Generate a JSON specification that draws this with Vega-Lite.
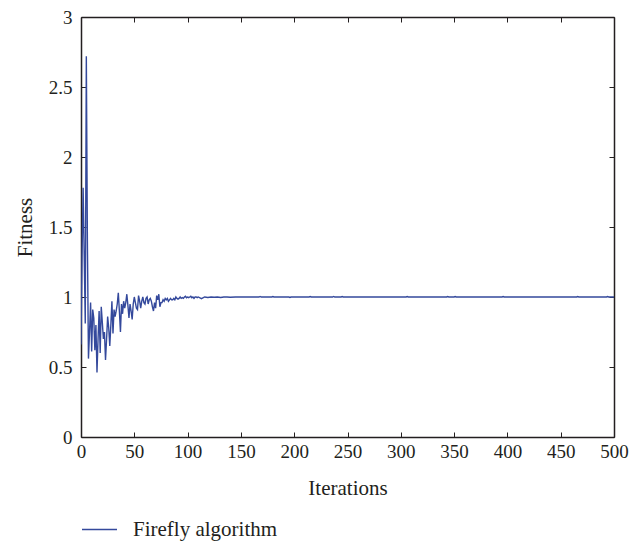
{
  "$schema": "https://vega.github.io/schema/vega-lite/v6.json",
  "autosize": "none",
  "width": 533,
  "height": 420,
  "padding": {"left": 81, "top": 17, "right": 28, "bottom": 108},
  "background": "white",
  "config": {
    "view": {"stroke": null},
    "font": "Liberation Serif",
    "axis": {
      "grid": false,
      "domainColor": "#231f20",
      "domainWidth": 1.5,
      "tickColor": "#231f20",
      "tickSize": -5,
      "tickWidth": 1,
      "labelFont": "Liberation Serif",
      "labelFontSize": 19,
      "labelColor": "#231f20",
      "titleFont": "Liberation Serif",
      "titleFontSize": 21,
      "titleFontWeight": "normal",
      "titleColor": "#231f20"
    },
    "legend": {
      "labelFont": "Liberation Serif",
      "labelFontSize": 21,
      "labelColor": "#231f20"
    }
  },
  "data": {
    "values": [
      {"iteration": 0, "fitness": 0.66, "series": "Firefly algorithm"},
      {"iteration": 1, "fitness": 1.3, "series": "Firefly algorithm"},
      {"iteration": 2, "fitness": 1.78, "series": "Firefly algorithm"},
      {"iteration": 3, "fitness": 1.3, "series": "Firefly algorithm"},
      {"iteration": 4, "fitness": 0.81, "series": "Firefly algorithm"},
      {"iteration": 5, "fitness": 2.72, "series": "Firefly algorithm"},
      {"iteration": 6, "fitness": 1.4, "series": "Firefly algorithm"},
      {"iteration": 7, "fitness": 0.56, "series": "Firefly algorithm"},
      {"iteration": 8, "fitness": 0.75, "series": "Firefly algorithm"},
      {"iteration": 9, "fitness": 0.96, "series": "Firefly algorithm"},
      {"iteration": 10, "fitness": 0.61, "series": "Firefly algorithm"},
      {"iteration": 11, "fitness": 0.91, "series": "Firefly algorithm"},
      {"iteration": 12, "fitness": 0.85, "series": "Firefly algorithm"},
      {"iteration": 13, "fitness": 0.62, "series": "Firefly algorithm"},
      {"iteration": 14, "fitness": 0.8, "series": "Firefly algorithm"},
      {"iteration": 15, "fitness": 0.46, "series": "Firefly algorithm"},
      {"iteration": 16, "fitness": 0.7, "series": "Firefly algorithm"},
      {"iteration": 17, "fitness": 0.9, "series": "Firefly algorithm"},
      {"iteration": 18, "fitness": 0.6, "series": "Firefly algorithm"},
      {"iteration": 19, "fitness": 0.93, "series": "Firefly algorithm"},
      {"iteration": 20, "fitness": 0.82, "series": "Firefly algorithm"},
      {"iteration": 21, "fitness": 0.7, "series": "Firefly algorithm"},
      {"iteration": 22, "fitness": 0.75, "series": "Firefly algorithm"},
      {"iteration": 23, "fitness": 0.55, "series": "Firefly algorithm"},
      {"iteration": 24, "fitness": 0.7, "series": "Firefly algorithm"},
      {"iteration": 25, "fitness": 0.86, "series": "Firefly algorithm"},
      {"iteration": 26, "fitness": 0.78, "series": "Firefly algorithm"},
      {"iteration": 27, "fitness": 0.65, "series": "Firefly algorithm"},
      {"iteration": 28, "fitness": 0.8, "series": "Firefly algorithm"},
      {"iteration": 29, "fitness": 0.97, "series": "Firefly algorithm"},
      {"iteration": 30, "fitness": 0.74, "series": "Firefly algorithm"},
      {"iteration": 31, "fitness": 0.91, "series": "Firefly algorithm"},
      {"iteration": 32, "fitness": 0.86, "series": "Firefly algorithm"},
      {"iteration": 33, "fitness": 0.9, "series": "Firefly algorithm"},
      {"iteration": 34, "fitness": 0.95, "series": "Firefly algorithm"},
      {"iteration": 35, "fitness": 1.03, "series": "Firefly algorithm"},
      {"iteration": 36, "fitness": 0.9, "series": "Firefly algorithm"},
      {"iteration": 37, "fitness": 0.75, "series": "Firefly algorithm"},
      {"iteration": 38, "fitness": 0.95, "series": "Firefly algorithm"},
      {"iteration": 39, "fitness": 0.88, "series": "Firefly algorithm"},
      {"iteration": 40, "fitness": 0.97, "series": "Firefly algorithm"},
      {"iteration": 41, "fitness": 0.92, "series": "Firefly algorithm"},
      {"iteration": 42, "fitness": 0.96, "series": "Firefly algorithm"},
      {"iteration": 43, "fitness": 1.02, "series": "Firefly algorithm"},
      {"iteration": 44, "fitness": 0.94, "series": "Firefly algorithm"},
      {"iteration": 45, "fitness": 0.85, "series": "Firefly algorithm"},
      {"iteration": 46, "fitness": 0.95, "series": "Firefly algorithm"},
      {"iteration": 47, "fitness": 0.9, "series": "Firefly algorithm"},
      {"iteration": 48, "fitness": 0.84, "series": "Firefly algorithm"},
      {"iteration": 49, "fitness": 0.95, "series": "Firefly algorithm"},
      {"iteration": 50, "fitness": 1.0, "series": "Firefly algorithm"},
      {"iteration": 51, "fitness": 0.96, "series": "Firefly algorithm"},
      {"iteration": 52, "fitness": 0.92, "series": "Firefly algorithm"},
      {"iteration": 53, "fitness": 0.91, "series": "Firefly algorithm"},
      {"iteration": 54, "fitness": 1.01, "series": "Firefly algorithm"},
      {"iteration": 55, "fitness": 0.97, "series": "Firefly algorithm"},
      {"iteration": 56, "fitness": 0.92, "series": "Firefly algorithm"},
      {"iteration": 57, "fitness": 0.97, "series": "Firefly algorithm"},
      {"iteration": 58, "fitness": 1.0, "series": "Firefly algorithm"},
      {"iteration": 59, "fitness": 0.96, "series": "Firefly algorithm"},
      {"iteration": 60, "fitness": 0.95, "series": "Firefly algorithm"},
      {"iteration": 61, "fitness": 0.99, "series": "Firefly algorithm"},
      {"iteration": 62, "fitness": 1.0, "series": "Firefly algorithm"},
      {"iteration": 63, "fitness": 0.95, "series": "Firefly algorithm"},
      {"iteration": 64, "fitness": 0.98, "series": "Firefly algorithm"},
      {"iteration": 65, "fitness": 0.99, "series": "Firefly algorithm"},
      {"iteration": 66, "fitness": 0.97, "series": "Firefly algorithm"},
      {"iteration": 67, "fitness": 0.93, "series": "Firefly algorithm"},
      {"iteration": 68, "fitness": 0.9, "series": "Firefly algorithm"},
      {"iteration": 69, "fitness": 0.96, "series": "Firefly algorithm"},
      {"iteration": 70, "fitness": 0.92, "series": "Firefly algorithm"},
      {"iteration": 71, "fitness": 1.01, "series": "Firefly algorithm"},
      {"iteration": 72, "fitness": 0.98, "series": "Firefly algorithm"},
      {"iteration": 73, "fitness": 1.02, "series": "Firefly algorithm"},
      {"iteration": 74, "fitness": 0.93, "series": "Firefly algorithm"},
      {"iteration": 75, "fitness": 0.96, "series": "Firefly algorithm"},
      {"iteration": 76, "fitness": 0.96, "series": "Firefly algorithm"},
      {"iteration": 77, "fitness": 0.98, "series": "Firefly algorithm"},
      {"iteration": 78, "fitness": 0.97, "series": "Firefly algorithm"},
      {"iteration": 79, "fitness": 0.99, "series": "Firefly algorithm"},
      {"iteration": 80, "fitness": 0.98, "series": "Firefly algorithm"},
      {"iteration": 81, "fitness": 0.99, "series": "Firefly algorithm"},
      {"iteration": 82, "fitness": 0.97, "series": "Firefly algorithm"},
      {"iteration": 83, "fitness": 0.98, "series": "Firefly algorithm"},
      {"iteration": 84, "fitness": 0.99, "series": "Firefly algorithm"},
      {"iteration": 85, "fitness": 0.98, "series": "Firefly algorithm"},
      {"iteration": 86, "fitness": 0.98, "series": "Firefly algorithm"},
      {"iteration": 87, "fitness": 0.99, "series": "Firefly algorithm"},
      {"iteration": 88, "fitness": 0.98, "series": "Firefly algorithm"},
      {"iteration": 89, "fitness": 1.0, "series": "Firefly algorithm"},
      {"iteration": 90, "fitness": 0.99, "series": "Firefly algorithm"},
      {"iteration": 91, "fitness": 0.985, "series": "Firefly algorithm"},
      {"iteration": 92, "fitness": 0.99, "series": "Firefly algorithm"},
      {"iteration": 93, "fitness": 1.0, "series": "Firefly algorithm"},
      {"iteration": 94, "fitness": 0.99, "series": "Firefly algorithm"},
      {"iteration": 95, "fitness": 0.995, "series": "Firefly algorithm"},
      {"iteration": 96, "fitness": 0.99, "series": "Firefly algorithm"},
      {"iteration": 97, "fitness": 1.0, "series": "Firefly algorithm"},
      {"iteration": 98, "fitness": 1.005, "series": "Firefly algorithm"},
      {"iteration": 99, "fitness": 0.995, "series": "Firefly algorithm"},
      {"iteration": 100, "fitness": 1.0, "series": "Firefly algorithm"},
      {"iteration": 101, "fitness": 0.995, "series": "Firefly algorithm"},
      {"iteration": 102, "fitness": 1.0, "series": "Firefly algorithm"},
      {"iteration": 103, "fitness": 1.005, "series": "Firefly algorithm"},
      {"iteration": 104, "fitness": 0.995, "series": "Firefly algorithm"},
      {"iteration": 105, "fitness": 1.0, "series": "Firefly algorithm"},
      {"iteration": 106, "fitness": 0.99, "series": "Firefly algorithm"},
      {"iteration": 107, "fitness": 1.0, "series": "Firefly algorithm"},
      {"iteration": 108, "fitness": 1.0, "series": "Firefly algorithm"},
      {"iteration": 109, "fitness": 0.995, "series": "Firefly algorithm"},
      {"iteration": 110, "fitness": 1.0, "series": "Firefly algorithm"},
      {"iteration": 113, "fitness": 0.988, "series": "Firefly algorithm"},
      {"iteration": 116, "fitness": 1.0, "series": "Firefly algorithm"},
      {"iteration": 119, "fitness": 0.997, "series": "Firefly algorithm"},
      {"iteration": 122, "fitness": 1.0, "series": "Firefly algorithm"},
      {"iteration": 125, "fitness": 0.998, "series": "Firefly algorithm"},
      {"iteration": 128, "fitness": 1.0, "series": "Firefly algorithm"},
      {"iteration": 131, "fitness": 0.997, "series": "Firefly algorithm"},
      {"iteration": 134, "fitness": 1.0, "series": "Firefly algorithm"},
      {"iteration": 137, "fitness": 1.0, "series": "Firefly algorithm"},
      {"iteration": 140, "fitness": 0.998, "series": "Firefly algorithm"},
      {"iteration": 145, "fitness": 1.0, "series": "Firefly algorithm"},
      {"iteration": 150, "fitness": 1.0, "series": "Firefly algorithm"},
      {"iteration": 160, "fitness": 1.0, "series": "Firefly algorithm"},
      {"iteration": 167, "fitness": 1.0, "series": "Firefly algorithm"},
      {"iteration": 168, "fitness": 1.004, "series": "Firefly algorithm"},
      {"iteration": 169, "fitness": 1.0, "series": "Firefly algorithm"},
      {"iteration": 179, "fitness": 1.0, "series": "Firefly algorithm"},
      {"iteration": 180, "fitness": 1.003, "series": "Firefly algorithm"},
      {"iteration": 181, "fitness": 1.0, "series": "Firefly algorithm"},
      {"iteration": 195, "fitness": 1.0, "series": "Firefly algorithm"},
      {"iteration": 196, "fitness": 0.997, "series": "Firefly algorithm"},
      {"iteration": 197, "fitness": 1.0, "series": "Firefly algorithm"},
      {"iteration": 214, "fitness": 1.0, "series": "Firefly algorithm"},
      {"iteration": 215, "fitness": 1.003, "series": "Firefly algorithm"},
      {"iteration": 216, "fitness": 1.0, "series": "Firefly algorithm"},
      {"iteration": 236, "fitness": 1.0, "series": "Firefly algorithm"},
      {"iteration": 237, "fitness": 1.004, "series": "Firefly algorithm"},
      {"iteration": 238, "fitness": 1.0, "series": "Firefly algorithm"},
      {"iteration": 244, "fitness": 1.0, "series": "Firefly algorithm"},
      {"iteration": 245, "fitness": 1.003, "series": "Firefly algorithm"},
      {"iteration": 246, "fitness": 1.0, "series": "Firefly algorithm"},
      {"iteration": 270, "fitness": 1.0, "series": "Firefly algorithm"},
      {"iteration": 305, "fitness": 1.0, "series": "Firefly algorithm"},
      {"iteration": 306, "fitness": 1.003, "series": "Firefly algorithm"},
      {"iteration": 307, "fitness": 1.0, "series": "Firefly algorithm"},
      {"iteration": 343, "fitness": 1.0, "series": "Firefly algorithm"},
      {"iteration": 344, "fitness": 1.003, "series": "Firefly algorithm"},
      {"iteration": 345, "fitness": 1.0, "series": "Firefly algorithm"},
      {"iteration": 350, "fitness": 1.0, "series": "Firefly algorithm"},
      {"iteration": 351, "fitness": 1.003, "series": "Firefly algorithm"},
      {"iteration": 352, "fitness": 1.0, "series": "Firefly algorithm"},
      {"iteration": 395, "fitness": 1.0, "series": "Firefly algorithm"},
      {"iteration": 396, "fitness": 1.003, "series": "Firefly algorithm"},
      {"iteration": 397, "fitness": 1.0, "series": "Firefly algorithm"},
      {"iteration": 440, "fitness": 1.0, "series": "Firefly algorithm"},
      {"iteration": 465, "fitness": 1.0, "series": "Firefly algorithm"},
      {"iteration": 466, "fitness": 1.003, "series": "Firefly algorithm"},
      {"iteration": 467, "fitness": 1.0, "series": "Firefly algorithm"},
      {"iteration": 493, "fitness": 1.0, "series": "Firefly algorithm"},
      {"iteration": 494, "fitness": 1.003, "series": "Firefly algorithm"},
      {"iteration": 495, "fitness": 1.0, "series": "Firefly algorithm"},
      {"iteration": 500, "fitness": 1.0, "series": "Firefly algorithm"}
    ]
  },
  "layer": [
    {
      "mark": {"type": "line", "strokeWidth": 1.4, "clip": true},
      "encoding": {
        "x": {
          "field": "iteration",
          "type": "quantitative",
          "scale": {"domain": [0, 500], "nice": false, "zero": false},
          "axis": {
            "orient": "bottom",
            "values": [0, 50, 100, 150, 200, 250, 300, 350, 400, 450, 500],
            "labelPadding": 10,
            "labelFlush": false,
            "title": "Iterations",
            "titleY": 51,
            "titleBaseline": "middle"
          }
        },
        "y": {
          "field": "fitness",
          "type": "quantitative",
          "scale": {"domain": [0, 3], "nice": false, "zero": false},
          "axis": {
            "orient": "left",
            "values": [0, 0.5, 1, 1.5, 2, 2.5, 3],
            "labelExpr": "'' + datum.value",
            "labelPadding": 14,
            "labelFlush": false,
            "title": "Fitness",
            "titleX": -56,
            "titleY": 210,
            "titleBaseline": "middle",
            "titleAngle": -90
          }
        },
        "color": {
          "field": "series",
          "type": "nominal",
          "scale": {"range": ["#34499c"]},
          "legend": {
            "title": null,
            "orient": "none",
            "legendX": 0,
            "legendY": 494,
            "symbolType": "stroke",
            "symbolSize": 1225,
            "symbolStrokeWidth": 1.4,
            "labelOffset": 15
          }
        }
      }
    },
    {
      "mark": {"type": "line", "opacity": 0},
      "encoding": {
        "x": {
          "field": "iteration",
          "type": "quantitative",
          "axis": {
            "orient": "top",
            "values": [0, 50, 100, 150, 200, 250, 300, 350, 400, 450, 500],
            "labels": false,
            "title": null
          }
        },
        "y": {
          "field": "fitness",
          "type": "quantitative",
          "axis": {
            "orient": "right",
            "values": [0, 0.5, 1, 1.5, 2, 2.5, 3],
            "labels": false,
            "title": null
          }
        }
      }
    }
  ],
  "resolve": {"axis": {"x": "independent", "y": "independent"}}
}
